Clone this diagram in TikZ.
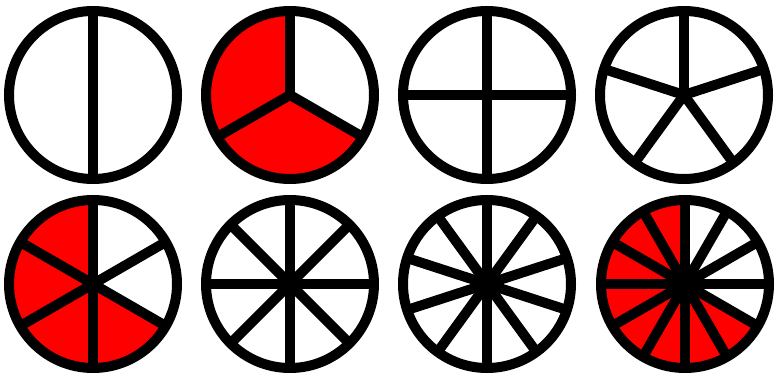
\documentclass[tikz,border=0pt]{standalone}
\begin{document}
\begin{tikzpicture}[x=1pt,y=1pt,
  rim/.style={draw=black,line width=10pt},
  spoke/.style={draw=black,line width=10pt},
  slice/.style={fill=red,draw=none}]
\useasboundingbox (0,0) rectangle (777,383);
\def\R{84}
% wheel: centre x, centre y, number of parts, filled (0/1)
\newcommand{\mywheel}[4]{%
  \begin{scope}[shift={(#1,#2)}]
    \ifnum#4=1
      \pgfmathsetmacro{\angA}{90}
      \pgfmathsetmacro{\angB}{330}
      \fill[slice] (0,0) -- (\angA:\R) arc[start angle=\angA,end angle=\angB,radius=\R] -- cycle;
    \fi
    \pgfmathsetmacro{\stepang}{360/#3}
    \foreach \k in {1,...,#3}{
      \draw[spoke] (0,0) -- ({90+\k*\stepang}:\R);
    }
    \draw[rim] (0,0) circle[radius=\R];
  \end{scope}}
\mywheel{93}{288}{2}{0}
\mywheel{290}{288}{3}{1}
\mywheel{487}{288}{4}{0}
\mywheel{684}{288}{5}{0}
\mywheel{93}{99}{6}{1}
\mywheel{290}{99}{8}{0}
\mywheel{487}{99}{10}{0}
\mywheel{685}{99}{12}{1}
\end{tikzpicture}
\end{document}
